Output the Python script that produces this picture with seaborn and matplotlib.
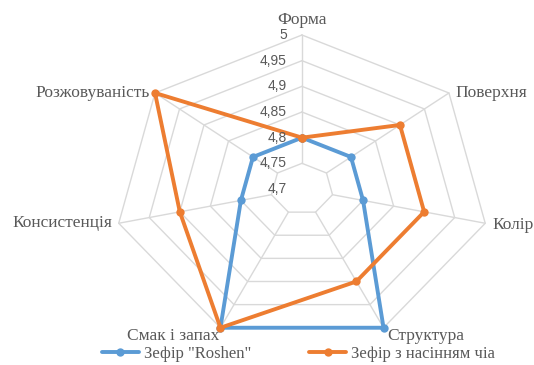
import numpy as np
import pandas as pd
import matplotlib
matplotlib.use("Agg")
import matplotlib.pyplot as plt
from matplotlib.lines import Line2D
import seaborn as sns

# Sensory scores of marshmallow samples
categories = ["Форма", "Поверхня", "Колір", "Структура",
              "Смак і запах", "Консистенція", "Розжовуваність"]
roshen = [4.8, 4.8, 4.8, 5.0, 5.0, 4.8, 4.8]
chia = [4.8, 4.9, 4.9, 4.9, 5.0, 4.9, 5.0]
series_names = ['Зефір "Roshen"', "Зефір з насінням чіа"]
ring_values = [4.75, 4.8, 4.85, 4.9, 4.95, 5.0]
tick_values = [4.7, 4.75, 4.8, 4.85, 4.9, 4.95, 5.0]
tick_labels = ["4,7", "4,75", "4,8", "4,85", "4,9", "4,95", "5"]
r_min, r_max = 4.7, 5.0

sns.set_style("white")
plt.rcParams["font.family"] = ["Liberation Serif", "DejaVu Serif"]

colors = {series_names[0]: "#5B9BD5", series_names[1]: "#ED7D31"}
grid_color = "#D9D9D9"
text_color = "#595959"

n = len(categories)
angles = np.arange(n) * 2 * np.pi / n
closed_angles = np.append(angles, 2 * np.pi)

rows = []
for name, vals in zip(series_names, [roshen, chia]):
    for th, v in zip(closed_angles, list(vals) + [vals[0]]):
        rows.append({"theta": th, "value": v, "series": name})
df = pd.DataFrame(rows)

fig = plt.figure(figsize=(5.34, 3.65), dpi=100)
ax = fig.add_axes([0.2135, 0.0603, 0.704, 0.8438], projection="polar")
ax.set_aspect("auto")
ax.set_theta_zero_location("N")
ax.set_theta_direction(-1)
ax.set_ylim(r_min, r_max)
ax.grid(False)
ax.spines["polar"].set_visible(False)
ax.set_xticks([])
ax.set_yticks([])
ax.patch.set_alpha(0)

# heptagonal grid rings and spokes
for rv in ring_values:
    ax.plot(closed_angles, [rv] * (n + 1), color=grid_color, lw=1.0, zorder=1,
            clip_on=False)
for th in angles:
    ax.plot([th, th], [ring_values[0], r_max], color=grid_color, lw=1.0,
            zorder=1, clip_on=False)

sns.lineplot(data=df, x="theta", y="value", hue="series", palette=colors,
             sort=False, estimator=None, marker="o", markersize=6,
             markeredgewidth=0, linewidth=2.8, legend=False, ax=ax,
             zorder=3, clip_on=False)
ax.set_xlabel("")
ax.set_ylabel("")
ax.set_ylim(r_min, r_max)

# radial value labels along the top spoke
for tv, tl in zip(tick_values, tick_labels):
    ax.annotate(tl, xy=(0, tv), xytext=(-11, 0), textcoords="offset points",
                ha="right", va="center", fontsize=10, color=text_color,
                family=["Liberation Sans", "DejaVu Sans"])

# category labels around the outer ring
label_layout = [
    (0, 11, "center", "center"),
    (4.5, 0, "left", "center"),
    (5, -1, "left", "center"),
    (3, -6, "left", "center"),
    (-1, -6, "right", "center"),
    (-4.5, 0, "right", "center"),
    (-4, 0, "right", "center"),
]
for th, cat, (dx, dy, ha, va) in zip(angles, categories, label_layout):
    ax.annotate(cat, xy=(th, r_max), xytext=(dx, dy), textcoords="offset points",
                ha=ha, va=va, fontsize=12.5, color=text_color,
                annotation_clip=False)

handles = [Line2D([0], [0], color=colors[s], lw=2.8, marker="o", markersize=6,
                  markeredgewidth=0) for s in series_names]
leg = fig.legend(handles, series_names, loc="center", ncol=2,
                 bbox_to_anchor=(0.559, 0.03), frameon=False, fontsize=12,
                 handlelength=2.2, handletextpad=0.3, columnspacing=3.5,
                 labelcolor=text_color)

fig.savefig("out.png", dpi=100)
